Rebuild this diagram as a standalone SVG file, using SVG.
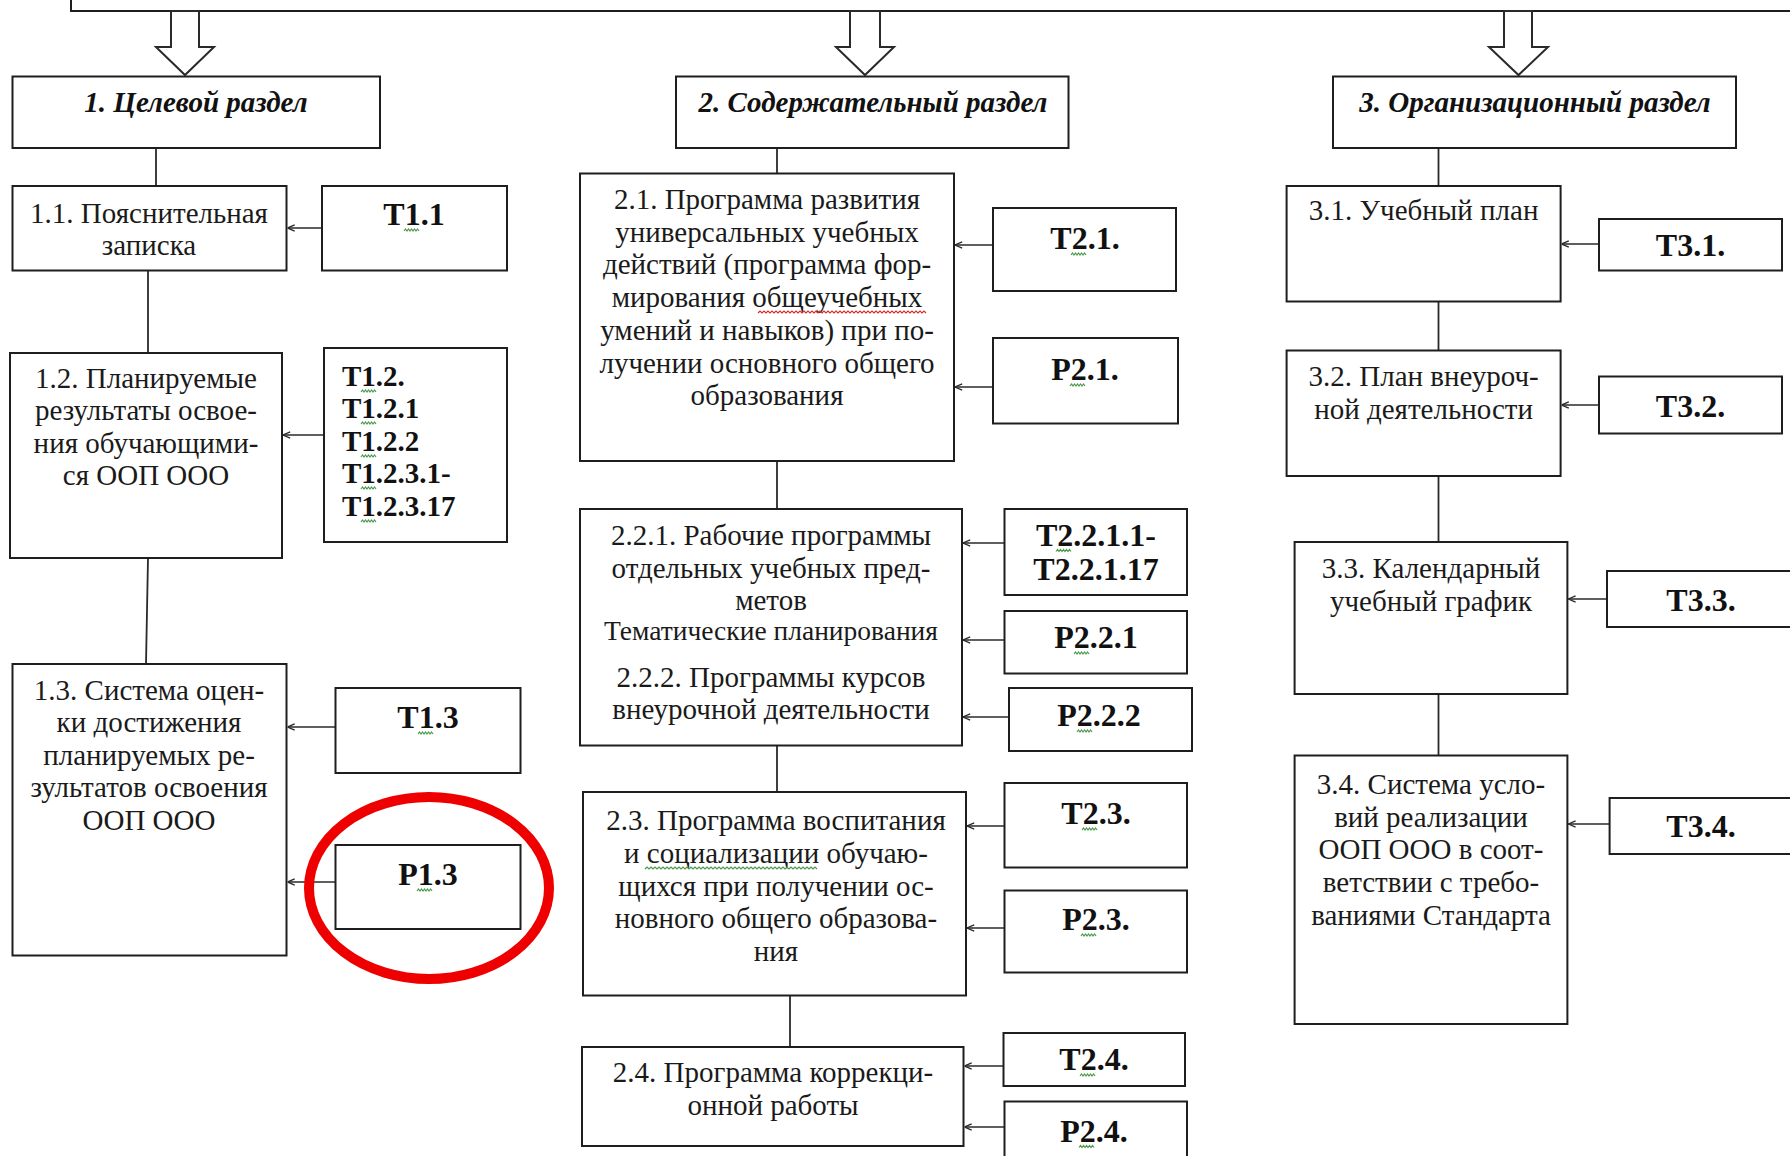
<svg xmlns="http://www.w3.org/2000/svg" width="1790" height="1156" viewBox="0 0 1790 1156">
<style>
.box{fill:#fff;stroke:#1e1e1e;stroke-width:2}
.blk{fill:#fff;stroke:#2a2a2a;stroke-width:2;stroke-linejoin:miter}
.ln{stroke:#2a2a2a;stroke-width:1.8;fill:none}
.ar{stroke:#2a2a2a;stroke-width:1.6;fill:none;marker-end:url(#ah)}
.t{font-family:"Liberation Serif","Times New Roman",serif;font-size:29px;fill:#1a1a1a;text-anchor:middle}
.tp{font-family:"Liberation Serif","Times New Roman",serif;font-size:27.5px;fill:#1a1a1a;text-anchor:middle}
.h{font-family:"Liberation Serif","Times New Roman",serif;font-size:29px;font-weight:bold;font-style:italic;fill:#111;text-anchor:middle}
.b{font-family:"Liberation Serif","Times New Roman",serif;font-size:32px;font-weight:bold;fill:#111;text-anchor:middle}
.bl{font-family:"Liberation Serif","Times New Roman",serif;font-size:29px;font-weight:bold;fill:#111}
.wg{stroke:#4a9a4a;stroke-width:1.2;fill:none}
.wr{stroke:#d03030;stroke-width:1.2;fill:none}
</style>
<defs>
<marker id="ah" viewBox="0 0 10 10" refX="10" refY="5" markerWidth="8" markerHeight="8" markerUnits="userSpaceOnUse" orient="auto">
<path d="M1,1 L10,5 L1,9" fill="none" stroke="#2a2a2a" stroke-width="1.6"/>
</marker>
</defs>
<rect width="1790" height="1156" fill="#fff"/>

<g id="top">
<rect class="box" x="71" y="-20" width="1760" height="31"/>
<polygon class="blk" points="171,11 171,47 156,47 185,75 214,47 199,47 199,11"/>
<polygon class="blk" points="850,11 850,47 836,47 865,75 894,47 880,47 880,11"/>
<polygon class="blk" points="1504,11 1504,47 1489,47 1518.5,75 1548,47 1532,47 1532,11"/>
</g>

<g id="connectors">
<line class="ln" x1="156" y1="148" x2="156" y2="186"/>
<line class="ln" x1="148" y1="270.5" x2="148" y2="353"/>
<line class="ln" x1="148" y1="558" x2="146" y2="664"/>
<line class="ln" x1="777" y1="148" x2="777" y2="173.5"/>
<line class="ln" x1="777" y1="461" x2="777" y2="509"/>
<line class="ln" x1="777" y1="745.5" x2="777" y2="792"/>
<line class="ln" x1="790" y1="995.5" x2="790" y2="1047"/>
<line class="ln" x1="1438.5" y1="148" x2="1438.5" y2="186"/>
<line class="ln" x1="1438.5" y1="301.5" x2="1438.5" y2="350.5"/>
<line class="ln" x1="1438.5" y1="476" x2="1438.5" y2="542"/>
<line class="ln" x1="1438.5" y1="694" x2="1438.5" y2="755"/>

<line class="ar" x1="322" y1="228" x2="287.5" y2="228"/>
<line class="ar" x1="324" y1="435" x2="283" y2="435"/>
<line class="ar" x1="335.5" y1="727" x2="287.5" y2="727"/>
<line class="ar" x1="335.5" y1="882" x2="287.5" y2="882"/>
<line class="ar" x1="993" y1="245" x2="955" y2="245"/>
<line class="ar" x1="993" y1="387" x2="955" y2="387"/>
<line class="ar" x1="1004.5" y1="543" x2="963" y2="543"/>
<line class="ar" x1="1004.5" y1="640" x2="963" y2="640"/>
<line class="ar" x1="1009" y1="717" x2="963" y2="717"/>
<line class="ar" x1="1004.5" y1="826" x2="967" y2="826"/>
<line class="ar" x1="1004.5" y1="928" x2="967" y2="928"/>
<line class="ar" x1="1003.5" y1="1066" x2="964.5" y2="1066"/>
<line class="ar" x1="1004.5" y1="1127" x2="964.5" y2="1127"/>
<line class="ar" x1="1599" y1="244" x2="1561.6" y2="244"/>
<line class="ar" x1="1599" y1="405" x2="1561.6" y2="405"/>
<line class="ar" x1="1607" y1="599" x2="1568.4" y2="599"/>
<line class="ar" x1="1609.6" y1="824" x2="1568.4" y2="824"/>
</g>

<g id="sec1">
<rect class="box" x="12.5" y="76.5" width="367.5" height="71.5"/>
<text class="h" x="196" y="112">1. Целевой раздел</text>
</g>
<g id="sec2">
<rect class="box" x="676" y="76.5" width="392.5" height="71.5"/>
<text class="h" x="873" y="112">2. Содержательный раздел</text>
</g>
<g id="sec3">
<rect class="box" x="1333" y="76.5" width="403" height="71.5"/>
<text class="h" x="1535" y="112">3. Организационный раздел</text>
</g>

<g id="n1_1">
<rect class="box" x="12.5" y="186" width="274" height="84.5"/>
<text class="t" x="149" y="223">1.1. Пояснительная</text>
<text class="t" x="149" y="255">записка</text>
</g>
<g id="t1_1">
<rect class="box" x="322" y="186" width="185" height="84.5"/>
<text class="b" x="414" y="225">Т1.1</text>
<path class="wg" d="M404,231 l1.5,-2 1.5,2 1.5,-2 1.5,2 1.5,-2 1.5,2 1.5,-2 1.5,2 1.5,-2 1.5,2"/>
</g>

<g id="n1_2">
<rect class="box" x="10" y="353" width="272" height="205"/>
<text class="t" x="146" y="388">1.2. Планируемые</text>
<text class="t" x="146" y="420">результаты освое-</text>
<text class="t" x="146" y="453">ния обучающими-</text>
<text class="t" x="146" y="485">ся ООП ООО</text>
</g>
<g id="t1_2">
<rect class="box" x="324" y="348" width="183" height="194"/>
<text class="bl" x="342" y="386">Т1.2.</text>
<text class="bl" x="342" y="418">Т1.2.1</text>
<text class="bl" x="342" y="451">Т1.2.2</text>
<text class="bl" x="342" y="483">Т1.2.3.1-</text>
<text class="bl" x="342" y="516">Т1.2.3.17</text>
<path class="wg" d="M361,392 l1.5,-2 1.5,2 1.5,-2 1.5,2 1.5,-2 1.5,2 1.5,-2 1.5,2 1.5,-2 1.5,2"/>
<path class="wg" d="M361,424 l1.5,-2 1.5,2 1.5,-2 1.5,2 1.5,-2 1.5,2 1.5,-2 1.5,2 1.5,-2 1.5,2"/>
<path class="wg" d="M361,457 l1.5,-2 1.5,2 1.5,-2 1.5,2 1.5,-2 1.5,2 1.5,-2 1.5,2 1.5,-2 1.5,2"/>
<path class="wg" d="M361,489 l1.5,-2 1.5,2 1.5,-2 1.5,2 1.5,-2 1.5,2 1.5,-2 1.5,2 1.5,-2 1.5,2"/>
<path class="wg" d="M361,522 l1.5,-2 1.5,2 1.5,-2 1.5,2 1.5,-2 1.5,2 1.5,-2 1.5,2 1.5,-2 1.5,2"/>
</g>

<g id="n1_3">
<rect class="box" x="12.5" y="664" width="274" height="291.5"/>
<text class="t" x="149" y="700">1.3. Система оцен-</text>
<text class="t" x="149" y="732">ки достижения</text>
<text class="t" x="149" y="765">планируемых ре-</text>
<text class="t" x="149" y="797">зультатов освоения</text>
<text class="t" x="149" y="830">ООП ООО</text>
</g>
<g id="t1_3">
<rect class="box" x="335.5" y="688" width="185" height="85"/>
<text class="b" x="428" y="728">Т1.3</text>
<path class="wg" d="M418,734 l1.5,-2 1.5,2 1.5,-2 1.5,2 1.5,-2 1.5,2 1.5,-2 1.5,2 1.5,-2 1.5,2"/>
</g>
<g id="p1_3">
<rect class="box" x="335.5" y="845" width="185" height="84"/>
<text class="b" x="428" y="885">Р1.3</text>
<path class="wg" d="M417,891 l1.5,-2 1.5,2 1.5,-2 1.5,2 1.5,-2 1.5,2 1.5,-2 1.5,2 1.5,-2 1.5,2"/>
</g>
<g id="highlight">
<ellipse cx="429" cy="888" rx="120" ry="91" fill="none" stroke="#ee0000" stroke-width="10"/>
</g>

<g id="n2_1">
<rect class="box" x="580" y="173.5" width="374" height="287.5"/>
<text class="t" x="767" y="209">2.1. Программа развития</text>
<text class="t" x="767" y="242">универсальных учебных</text>
<text class="t" x="767" y="274">действий (программа фор-</text>
<text class="t" x="767" y="307">мирования общеучебных</text>
<text class="t" x="767" y="340">умений и навыков) при по-</text>
<text class="t" x="767" y="373">лучении основного общего</text>
<text class="t" x="767" y="405">образования</text>
<path class="wr" d="M758,313 l2,-2 2,2 2,-2 2,2 2,-2 2,2 2,-2 2,2 2,-2 2,2 2,-2 2,2 2,-2 2,2 2,-2 2,2 2,-2 2,2 2,-2 2,2 2,-2 2,2 2,-2 2,2 2,-2 2,2 2,-2 2,2 2,-2 2,2 2,-2 2,2 2,-2 2,2 2,-2 2,2 2,-2 2,2 2,-2 2,2 2,-2 2,2 2,-2 2,2 2,-2 2,2 2,-2 2,2 2,-2 2,2 2,-2 2,2 2,-2 2,2 2,-2 2,2 2,-2 2,2 2,-2 2,2 2,-2 2,2 2,-2 2,2 2,-2 2,2 2,-2 2,2 2,-2 2,2 2,-2 2,2 2,-2 2,2 2,-2 2,2 2,-2 2,2 2,-2 2,2 2,-2 2,2 2,-2 2,2"/>
</g>
<g id="t2_1">
<rect class="box" x="993" y="208" width="183" height="83"/>
<text class="b" x="1085" y="249">Т2.1.</text>
<path class="wg" d="M1071,255 l1.5,-2 1.5,2 1.5,-2 1.5,2 1.5,-2 1.5,2 1.5,-2 1.5,2 1.5,-2 1.5,2"/>
</g>
<g id="p2_1">
<rect class="box" x="993" y="338" width="185" height="85.5"/>
<text class="b" x="1085" y="380">Р2.1.</text>
<path class="wg" d="M1070,386 l1.5,-2 1.5,2 1.5,-2 1.5,2 1.5,-2 1.5,2 1.5,-2 1.5,2 1.5,-2 1.5,2"/>
</g>

<g id="n2_2">
<rect class="box" x="580" y="509" width="382" height="236.5"/>
<text class="t" x="771" y="544.5">2.2.1. Рабочие программы</text>
<text class="t" x="771" y="577.5">отдельных учебных пред-</text>
<text class="t" x="771" y="609.5">метов</text>
<text class="tp" x="771" y="640">Тематические планирования</text>
<text class="t" x="771" y="687">2.2.2. Программы курсов</text>
<text class="t" x="771" y="719">внеурочной деятельности</text>
</g>
<g id="t2_2_1">
<rect class="box" x="1004.5" y="509" width="182.5" height="86"/>
<text class="b" x="1096" y="545.5">Т2.2.1.1-</text>
<text class="b" x="1096" y="580">Т2.2.1.17</text>
<path class="wg" d="M1056,551.5 l1.5,-2 1.5,2 1.5,-2 1.5,2 1.5,-2 1.5,2 1.5,-2 1.5,2 1.5,-2 1.5,2"/>
</g>
<g id="p2_2_1">
<rect class="box" x="1004.5" y="611" width="182.5" height="62.5"/>
<text class="b" x="1096" y="648">Р2.2.1</text>
<path class="wg" d="M1074,654 l1.5,-2 1.5,2 1.5,-2 1.5,2 1.5,-2 1.5,2 1.5,-2 1.5,2 1.5,-2 1.5,2"/>
</g>
<g id="p2_2_2">
<rect class="box" x="1009" y="688" width="183" height="63"/>
<text class="b" x="1099" y="726">Р2.2.2</text>
<path class="wg" d="M1077,732 l1.5,-2 1.5,2 1.5,-2 1.5,2 1.5,-2 1.5,2 1.5,-2 1.5,2 1.5,-2 1.5,2"/>
</g>

<g id="n2_3">
<rect class="box" x="583" y="792" width="383" height="203.5"/>
<text class="t" x="776" y="830">2.3. Программа воспитания</text>
<text class="t" x="776" y="863">и социализации обучаю-</text>
<text class="t" x="776" y="896">щихся при получении ос-</text>
<text class="t" x="776" y="928">новного общего образова-</text>
<text class="t" x="776" y="961">ния</text>
<path class="wg" d="M645,869 l2,-2 2,2 2,-2 2,2 2,-2 2,2 2,-2 2,2 2,-2 2,2 2,-2 2,2 2,-2 2,2 2,-2 2,2 2,-2 2,2 2,-2 2,2 2,-2 2,2 2,-2 2,2 2,-2 2,2 2,-2 2,2 2,-2 2,2 2,-2 2,2 2,-2 2,2 2,-2 2,2 2,-2 2,2 2,-2 2,2 2,-2 2,2 2,-2 2,2 2,-2 2,2 2,-2 2,2 2,-2 2,2 2,-2 2,2 2,-2 2,2 2,-2 2,2 2,-2 2,2 2,-2 2,2 2,-2 2,2 2,-2 2,2 2,-2 2,2 2,-2 2,2 2,-2 2,2 2,-2 2,2 2,-2 2,2 2,-2 2,2 2,-2 2,2 2,-2 2,2 2,-2 2,2 2,-2 2,2 2,-2 2,2"/>
</g>
<g id="t2_3">
<rect class="box" x="1004.5" y="783" width="182.5" height="84.5"/>
<text class="b" x="1096" y="824">Т2.3.</text>
<path class="wg" d="M1082,830 l1.5,-2 1.5,2 1.5,-2 1.5,2 1.5,-2 1.5,2 1.5,-2 1.5,2 1.5,-2 1.5,2"/>
</g>
<g id="p2_3">
<rect class="box" x="1004.5" y="890.5" width="182.5" height="82"/>
<text class="b" x="1096" y="930">Р2.3.</text>
<path class="wg" d="M1081,936 l1.5,-2 1.5,2 1.5,-2 1.5,2 1.5,-2 1.5,2 1.5,-2 1.5,2 1.5,-2 1.5,2"/>
</g>

<g id="n2_4">
<rect class="box" x="582" y="1047" width="381.5" height="99"/>
<text class="t" x="773" y="1082">2.4. Программа коррекци-</text>
<text class="t" x="773" y="1115">онной работы</text>
</g>
<g id="t2_4">
<rect class="box" x="1003.5" y="1033" width="181.5" height="53"/>
<text class="b" x="1094" y="1070">Т2.4.</text>
<path class="wg" d="M1080,1076 l1.5,-2 1.5,2 1.5,-2 1.5,2 1.5,-2 1.5,2 1.5,-2 1.5,2 1.5,-2 1.5,2"/>
</g>
<g id="p2_4">
<rect class="box" x="1004.5" y="1101.5" width="182.5" height="80"/>
<text class="b" x="1094" y="1141.5">Р2.4.</text>
<path class="wg" d="M1079,1147.5 l1.5,-2 1.5,2 1.5,-2 1.5,2 1.5,-2 1.5,2 1.5,-2 1.5,2 1.5,-2 1.5,2"/>
</g>

<g id="n3_1">
<rect class="box" x="1286.6" y="186" width="274" height="115.5"/>
<text class="t" x="1423.6" y="220">3.1. Учебный план</text>
</g>
<g id="t3_1">
<rect class="box" x="1599" y="219" width="183" height="51.5"/>
<text class="b" x="1690.5" y="256">Т3.1.</text>
</g>
<g id="n3_2">
<rect class="box" x="1286.6" y="350.5" width="274" height="125.5"/>
<text class="t" x="1423.6" y="386">3.2. План внеуроч-</text>
<text class="t" x="1423.6" y="419">ной деятельности</text>
</g>
<g id="t3_2">
<rect class="box" x="1599" y="376.5" width="183" height="57"/>
<text class="b" x="1690.5" y="417">Т3.2.</text>
</g>
<g id="n3_3">
<rect class="box" x="1294.6" y="542" width="272.8" height="152"/>
<text class="t" x="1431" y="577.5">3.3. Календарный</text>
<text class="t" x="1431" y="610.5">учебный график</text>
</g>
<g id="t3_3">
<rect class="box" x="1607" y="571" width="200" height="56"/>
<text class="b" x="1701" y="611">Т3.3.</text>
</g>
<g id="n3_4">
<rect class="box" x="1294.6" y="755.5" width="272.8" height="268.5"/>
<text class="t" x="1431" y="793.5">3.4. Система усло-</text>
<text class="t" x="1431" y="826.5">вий реализации</text>
<text class="t" x="1431" y="858.5">ООП ООО в соот-</text>
<text class="t" x="1431" y="891.5">ветствии с требо-</text>
<text class="t" x="1431" y="924.5">ваниями Стандарта</text>
</g>
<g id="t3_4">
<rect class="box" x="1609.6" y="798" width="200" height="56"/>
<text class="b" x="1701" y="837">Т3.4.</text>
</g>
</svg>
